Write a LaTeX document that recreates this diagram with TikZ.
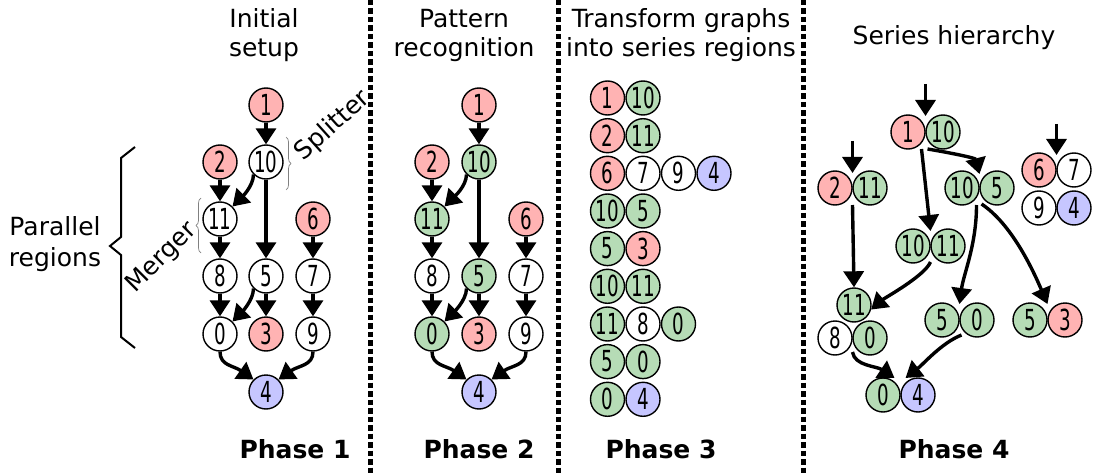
\documentclass[tikz,border=0pt]{standalone}
\usepackage{fontspec}
\setmainfont{DejaVu Sans}
\newfontfamily\numfont[FakeStretch=0.63]{DejaVu Sans}
\usetikzlibrary{arrows.meta,decorations.pathreplacing,calc}
\definecolor{cpink}{HTML}{FFB3B3}
\definecolor{cgreen}{HTML}{B6DCB6}
\definecolor{cblue}{HTML}{C6C6FF}
\begin{document}
\begin{tikzpicture}[x=1pt,y=-1pt,
  v/.style={circle,draw,line width=1.4pt,minimum size=34pt,inner sep=0pt,font=\numfont\fontsize{29}{29}\selectfont},
  w/.style={v,fill=white}, r/.style={v,fill=cpink}, g/.style={v,fill=cgreen}, b/.style={v,fill=cblue},
  arr/.style={line width=3.4pt,-{Triangle[width=20pt,length=16pt]}},
  sepline/.style={line width=5pt,dash pattern=on 5.5pt off 3pt},
  head/.style={font=\fontsize{25}{29}\selectfont,align=center},
  phase/.style={font=\bfseries\fontsize{25}{29}\selectfont},
  thinbrace/.style={draw=gray,line width=0.7pt,decorate,decoration={brace,amplitude=5pt}}]
\useasboundingbox (0,0) rectangle (1095,476);
% separators
\draw[sepline] (370,0) -- (370,476);
\draw[sepline] (558,0) -- (558,476);
\draw[sepline] (803,0) -- (803,476);
% headings
\node[head] (h1) at (264,35) {Initial\\setup};
\node[head] (h2) at (464,35) {Pattern\\recognition};
\node[head] (h3) at (681,35) {Transform graphs\\into series regions};
\node[head] (h4) at (954,38) {Series hierarchy};
\node[phase] (p1) at (295,449) {Phase 1};
\node[phase] (p2) at (479,449) {Phase 2};
\node[phase] (p3) at (661,449) {Phase 3};
\node[phase] (p4) at (954,449) {Phase 4};
% Phase 1
\node[r] (a1) at (266,105) {1};
\node[w] (a10) at (266,162) {10};
\node[r] (a2) at (220,162) {2};
\node[w] (a11) at (220,219) {11};
\node[r] (a6) at (313,219) {6};
\node[w] (a8) at (220,276) {8};
\node[w] (a5) at (266,276) {5};
\node[w] (a7) at (313,276) {7};
\node[w] (a0) at (220,334) {0};
\node[r] (a3) at (266,334) {3};
\node[w] (a9) at (313,334) {9};
\node[b] (a4) at (266,392) {4};
\draw[arr] (a1) -- (a10);
\draw[arr] (a2) -- (a11);
\draw[arr] (a11) -- (a8);
\draw[arr] (a8) -- (a0);
\draw[arr] (a10) -- (a5);
\draw[arr] (a5) -- (a3);
\draw[arr] (a6) -- (a7);
\draw[arr] (a7) -- (a9);
\draw[arr] (a10.south west) .. controls +(0,12) and +(8,-8) .. (a11.north east);
\draw[arr] (a5.south west) .. controls +(0,12) and +(8,-8) .. (a0.north east);
\draw[arr] (a0.south) .. controls +(0,14) and +(-20,-14) .. (a4.north west);
\draw[arr] (a9.south) .. controls +(0,14) and +(20,-14) .. (a4.north east);
\draw[thinbrace] (286,137) -- (286,190);
\node[font=\fontsize{25}{25}\selectfont,rotate=42] (spl) at (333,126) {Splitter};
\draw[thinbrace] (201,253) -- (201,198);
\node[font=\fontsize{25}{25}\selectfont,rotate=45] (mrg) at (162,258) {Merger};
\draw[line width=2pt] (135,147) -- (121,158) -- (121,237) -- (110,246) -- (121,255) -- (121,337) -- (135,348);
\node[head,align=center,font=\fontsize{25}{31}\selectfont] (par) at (55,244) {Parallel\\regions};
% Phase 2
\node[r] (b1) at (479,105) {1};
\node[g] (b10) at (479,162) {10};
\node[r] (b2) at (432,162) {2};
\node[g] (b11) at (432,219) {11};
\node[r] (b6) at (526,219) {6};
\node[w] (b8) at (432,276) {8};
\node[g] (b5) at (479,276) {5};
\node[w] (b7) at (526,276) {7};
\node[g] (b0) at (432,334) {0};
\node[r] (b3) at (479,334) {3};
\node[w] (b9) at (526,334) {9};
\node[b] (b4) at (479,392) {4};
\draw[arr] (b1) -- (b10);
\draw[arr] (b2) -- (b11);
\draw[arr] (b11) -- (b8);
\draw[arr] (b8) -- (b0);
\draw[arr] (b10) -- (b5);
\draw[arr] (b5) -- (b3);
\draw[arr] (b6) -- (b7);
\draw[arr] (b7) -- (b9);
\draw[arr] (b10.south west) .. controls +(0,12) and +(8,-8) .. (b11.north east);
\draw[arr] (b5.south west) .. controls +(0,12) and +(8,-8) .. (b0.north east);
\draw[arr] (b0.south) .. controls +(0,14) and +(-20,-14) .. (b4.north west);
\draw[arr] (b9.south) .. controls +(0,14) and +(20,-14) .. (b4.north east);
% Phase 3
\node[r] (c0a) at (607.5,98) {1};   \node[g] (c0b) at (643,98) {10};
\node[r] (c1a) at (607.5,135.7) {2}; \node[g] (c1b) at (643,135.7) {11};
\node[r] (c2a) at (607.5,173.3) {6}; \node[w] (c2b) at (643,173.3) {7};
\node[w] (c2c) at (678.5,173.3) {9}; \node[b] (c2d) at (714,173.3) {4};
\node[g] (c3a) at (607.5,211) {10};  \node[g] (c3b) at (643,211) {5};
\node[g] (c4a) at (607.5,248.6) {5}; \node[r] (c4b) at (643,248.6) {3};
\node[g] (c5a) at (607.5,286.3) {10};\node[g] (c5b) at (643,286.3) {11};
\node[g] (c6a) at (607.5,324) {11};  \node[w] (c6b) at (643,324) {8};
\node[g] (c6c) at (678.5,324) {0};
\node[g] (c7a) at (607.5,361.6) {5}; \node[g] (c7b) at (643,361.6) {0};
\node[g] (c8a) at (607.5,399.3) {0}; \node[b] (c8b) at (643,399.3) {4};
% Phase 4
\node[r] (d1) at (908,132) {1};   \node[g] (d10) at (943,132) {10};
\node[r] (d2) at (835,188) {2};   \node[g] (d11) at (870,188) {11};
\node[g] (e10) at (962,188) {10}; \node[g] (e5) at (997,188) {5};
\node[r] (f6) at (1039,170) {6};  \node[w] (f7) at (1074,170) {7};
\node[w] (f9) at (1039,208) {9};  \node[b] (f4) at (1074,208) {4};
\node[g] (h10) at (913,246) {10}; \node[g] (h11) at (948,246) {11};
\node[g] (k11) at (854,305) {11};
\node[w] (k8) at (835,338) {8};   \node[g] (k0) at (870,338) {0};
\node[g] (m5) at (942,320) {5};   \node[g] (m0) at (977,320) {0};
\node[g] (n5) at (1030,320) {5};  \node[r] (n3) at (1065,320) {3};
\node[g] (q0) at (883,395) {0};   \node[b] (q4) at (918,395) {4};
\coordinate (t1) at (925.5,84);
\coordinate (t2) at (852.5,141);
\coordinate (t6) at (1056.5,124);
\draw[arr] (t1) -- ($(d1)!.5!(d10)+(0,-16)$);
\draw[arr] (t2) -- ($(d2)!.5!(d11)+(0,-15)$);
\draw[arr] (t6) -- ($(f6)!.5!(f7)+(0,-15)$);
\draw[arr] ($(d1)!.5!(d10)+(-4,17)$) -- ($(h10)!.5!(h11)+(0,-15)$);
\draw[arr] ($(d1)!.5!(d10)+(2,17)$) .. controls +(24,4) and +(-4,-16) .. ($(e10)!.5!(e5)+(0,-14)$);
\draw[arr] ($(d2)!.5!(d11)+(0,17)$) -- (k11.north);
\draw[arr] ($(e10)!.5!(e5)+(-3,17)$) .. controls +(0,40) and +(4,-30) .. ($(m5)!.5!(m0)+(0,-16)$);
\draw[arr] ($(e10)!.5!(e5)+(2,16)$) .. controls +(30,20) and +(-15,-35) .. ($(n5)!.5!(n3)+(0,-16)$);
\draw[arr] ($(h10)!.5!(h11)+(0,16)$) .. controls +(-6,14) and +(14,-12) .. (k11.-15);
\draw[arr] ($(k8)!.5!(k0)+(0,14)$) .. controls +(2,14) and +(-18,-12) .. ($(q0)!.5!(q4)+(-6,-17)$);
\draw[arr] ($(m5)!.5!(m0)+(2,15)$) .. controls +(-20,8) and +(18,-14) .. ($(q0)!.5!(q4)+(5,-17)$);
\end{tikzpicture}
\end{document}
